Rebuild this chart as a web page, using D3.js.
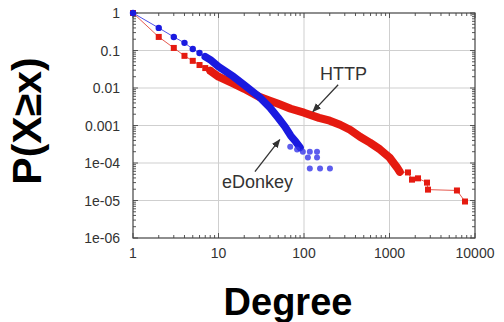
<!DOCTYPE html>
<meta charset="utf-8">

<!-- Load d3.js -->
<script src="https://d3js.org/d3.v7.min.js"></script>
<style>
  body { margin: 0; background: #fff; }
</style>

<!-- Create a div where the graph will take place -->
<div id="my_dataviz"></div>

<script>

// degree (x) and P(X>=x)
// HTTP: discrete low-degree points, dense band, scattered tail
var httpPoints = [[1,1],[2,0.23],[3,0.117],[4,0.072],[5,0.053],[6,0.041],[7,0.034],[8,0.029]];
var httpBand = [[8,0.029],[10,0.02],[15,0.013],[20,0.0095],[30,0.0058],[40,0.0046],[50,0.0038],
                [70,0.0028],[100,0.0022],[150,0.0016],[200,0.00134],[264,0.00105],[345,0.00077],
                [452,0.0005],[590,0.00035],[774,0.00023],[1000,0.00014],[1224,0.000076],[1320,0.000058]];
var httpTail = [[1645,0.000056],[1833,0.000036],[2155,0.000039],[2746,0.00003],[2820,0.0000195],
                [6150,0.0000185],[7640,0.0000094]];

// eDonkey
var edonkeyPoints = [[1,1],[2,0.40],[3,0.23],[4,0.16],[5,0.11],[6,0.086],[7,0.068]];
var edonkeyBand = [[7,0.068],[8,0.057],[10,0.037],[15,0.02],[20,0.012],[30,0.0058],[40,0.003],
                   [50,0.0016],[60,0.00093],[70,0.00053],[80,0.00037],[90,0.00026]];
var edonkeyTail = [[69,0.00027],[83,0.00023],[97,0.0002],[117,0.0002],[142,0.0002],
                   [111,0.00014],[142,0.00014],[117,0.000071],[154,0.000071],[201,0.000071]];

// axis ticks
var xTicks = [1, 10, 100, 1000, 10000];
var xTickLabels = ["1", "10", "100", "1000", "10000"];
var yTicks = [1, 0.1, 0.01, 0.001, 1e-4, 1e-5, 1e-6];
var yTickLabels = ["1", "0.1", "0.01", "0.001", "1e-04", "1e-05", "1e-06"];

// annotations: [label, text anchor point, arrow tail, arrow head]
var notes = [
  {label: "HTTP",    text: [154, 0.0165],  from: [251, 0.0122], to: [127, 0.00234]},
  {label: "eDonkey", text: [11, 0.000022], from: [26.7, 0.000059], to: [52, 0.00042]}
];

// set the dimensions and margins of the graph
var W = 504, H = 322;
var margin = {top: 13, right: 29, bottom: 84, left: 133},
    width = W - margin.left - margin.right,
    height = H - margin.top - margin.bottom;

var svg = d3.select("#my_dataviz")
  .append("svg")
    .attr("width", W)
    .attr("height", H)
    .style("font-family", "'Liberation Sans', Arial, sans-serif");

svg.append("rect").attr("width", W).attr("height", H).attr("fill", "#fff");

var g = svg.append("g")
    .attr("transform", "translate(" + margin.left + "," + margin.top + ")");

var x = d3.scaleLog().domain([1, 10000]).range([0, width]);
var y = d3.scaleLog().domain([1e-6, 1]).range([height, 0]);

// grid lines
g.selectAll(".vgrid")
  .data(xTicks.slice(1, -1))
  .enter().append("line")
    .attr("x1", function(d) { return x(d); }).attr("x2", function(d) { return x(d); })
    .attr("y1", 0).attr("y2", height)
    .attr("stroke", "#cfcfcf").attr("stroke-width", 1);
g.selectAll(".hgrid")
  .data(yTicks.slice(1, -1))
  .enter().append("line")
    .attr("y1", function(d) { return y(d); }).attr("y2", function(d) { return y(d); })
    .attr("x1", 0).attr("x2", width)
    .attr("stroke", "#cfcfcf").attr("stroke-width", 1);

// minor ticks at 2..9 of each decade
function minors(lo, hi) {
  var out = [];
  for (var d = lo; d < hi; d *= 10)
    for (var k = 2; k <= 9; k++) out.push(d * k);
  return out;
}
var xMinor = minors(1, 10000), yMinor = minors(1e-6, 1);

var ticks = g.append("g").attr("stroke", "#555").attr("stroke-width", 1);
[[xTicks, 5], [xMinor, 3]].forEach(function(s) {
  ticks.selectAll(null).data(s[0]).enter().append("line")
    .attr("x1", function(d) { return x(d); }).attr("x2", function(d) { return x(d); })
    .attr("y1", height).attr("y2", height - s[1]);
  ticks.selectAll(null).data(s[0]).enter().append("line")
    .attr("x1", function(d) { return x(d); }).attr("x2", function(d) { return x(d); })
    .attr("y1", 0).attr("y2", s[1]);
});
[[yTicks, 5], [yMinor, 3]].forEach(function(s) {
  ticks.selectAll(null).data(s[0]).enter().append("line")
    .attr("y1", function(d) { return y(d); }).attr("y2", function(d) { return y(d); })
    .attr("x1", 0).attr("x2", s[1]);
  ticks.selectAll(null).data(s[0]).enter().append("line")
    .attr("y1", function(d) { return y(d); }).attr("y2", function(d) { return y(d); })
    .attr("x1", width).attr("x2", width - s[1]);
});

// frame
g.append("rect")
  .attr("width", width).attr("height", height)
  .attr("fill", "none").attr("stroke", "#444").attr("stroke-width", 1.2);

// tick labels
g.selectAll(".xlab")
  .data(xTicks)
  .enter().append("text")
    .attr("x", function(d) { return x(d); })
    .attr("y", height + 20)
    .attr("text-anchor", "middle")
    .style("font-size", "14px").attr("fill", "#333")
    .text(function(d, i) { return xTickLabels[i]; });
g.selectAll(".ylab")
  .data(yTicks)
  .enter().append("text")
    .attr("x", -13)
    .attr("y", function(d) { return y(d) + 5; })
    .attr("text-anchor", "end")
    .style("font-size", "14px").attr("fill", "#333")
    .text(function(d, i) { return yTickLabels[i]; });

var line = d3.line()
  .x(function(d) { return x(d[0]); })
  .y(function(d) { return y(d[1]); });

// draw one series: thin connecting line, thick dense band, markers
function drawSeries(points, band, tail, color, thin, shape, bandWidth) {
  var all = points.concat(band.slice(1), tail);
  g.append("path").datum(all)
    .attr("d", line).attr("fill", "none")
    .attr("stroke", thin).attr("stroke-width", 1);
  g.append("path").datum(band)
    .attr("d", line).attr("fill", "none")
    .attr("stroke", color).attr("stroke-width", bandWidth)
    .attr("stroke-linecap", "round").attr("stroke-linejoin", "round");
  var marks = points.concat(tail);
  if (shape === "square") {
    g.selectAll(null).data(marks).enter().append("rect")
      .attr("x", function(d) { return x(d[0]) - 3; })
      .attr("y", function(d) { return y(d[1]) - 3; })
      .attr("width", 6).attr("height", 6)
      .attr("fill", color);
  } else {
    g.selectAll(null).data(marks).enter().append("circle")
      .attr("cx", function(d) { return x(d[0]); })
      .attr("cy", function(d) { return y(d[1]); })
      .attr("r", 3.2)
      .attr("fill", color);
  }
}

drawSeries(httpPoints, httpBand, httpTail, "#e51a10", "#e65a50", "square", 8);
drawSeries(edonkeyPoints, edonkeyBand, [], "#1a1ae0", "#5050e8", "circle", 7.5);
// scattered eDonkey tail
g.selectAll(null).data(edonkeyTail).enter().append("circle")
  .attr("cx", function(d) { return x(d[0]); })
  .attr("cy", function(d) { return y(d[1]); })
  .attr("r", 3)
  .attr("fill", "#3434e8").attr("fill-opacity", 0.8);

// arrowhead
svg.append("defs").append("marker")
  .attr("id", "arrow")
  .attr("viewBox", "0 0 10 10").attr("refX", 9).attr("refY", 5)
  .attr("markerWidth", 7).attr("markerHeight", 7)
  .attr("orient", "auto")
  .append("path").attr("d", "M0,1 L10,5 L0,9 z").attr("fill", "#333");

notes.forEach(function(n) {
  g.append("line")
    .attr("x1", x(n.from[0])).attr("y1", y(n.from[1]))
    .attr("x2", x(n.to[0])).attr("y2", y(n.to[1]))
    .attr("stroke", "#333").attr("stroke-width", 1.3)
    .attr("marker-end", "url(#arrow)");
  g.append("text")
    .attr("x", x(n.text[0])).attr("y", y(n.text[1]))
    .style("font-size", "18px").attr("fill", "#333")
    .text(n.label);
});

// axis titles
svg.append("text")
  .attr("x", 288).attr("y", 315)
  .attr("text-anchor", "middle")
  .style("font-size", "38px").style("font-weight", "bold")
  .text("Degree");
svg.append("text")
  .attr("transform", "translate(41,121) rotate(-90)")
  .attr("text-anchor", "middle")
  .style("font-size", "41px").style("font-weight", "bold")
  .text("P(X≥x)");

</script>
